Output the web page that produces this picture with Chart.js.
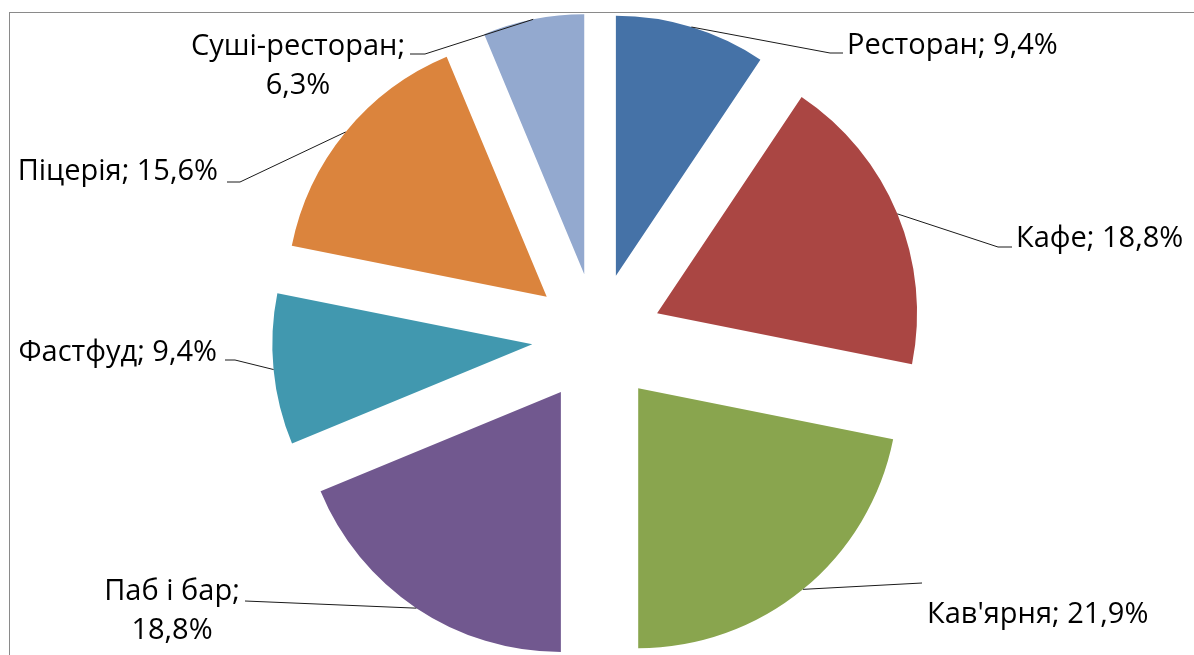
<!DOCTYPE html>
<html>
<head>
<meta charset="utf-8">
<script src="https://cdn.jsdelivr.net/npm/chart.js@4.4.1/dist/chart.umd.min.js"></script>
<style>
  html, body { margin: 0; padding: 0; background: #fff; overflow: hidden; }
  #wrap { position: relative; width: 1194px; height: 655px; overflow: hidden; }
  #frame { position: absolute; left: 9px; top: 12px; width: 1400px; height: 900px;
           border: 1px solid #8a8a8a; box-sizing: border-box; }
  canvas { position: absolute; left: 0; top: 0; }
</style>
</head>
<body>
<div id="wrap">
  <div id="frame"></div>
  <canvas id="c" width="1194" height="655"></canvas>
</div>
<script>
// ---- data ----
const categories = ['Ресторан', 'Кафе', "Кав'ярня", 'Паб і бар', 'Фастфуд', 'Піцерія', 'Суші-ресторан'];
const shares = [9.4, 18.8, 21.9, 18.8, 9.4, 15.6, 6.3];
const colors = ['#4572A7', '#AA4643', '#89A54E', '#71588F', '#4198AF', '#DB843D', '#93A9CF'];

// ---- label layout (positions only) ----
const labelLayout = [
  { knee: [830, 53],  end: [843, 53],  at: [847, 54],  align: 'left',   split: false },
  { knee: [998, 247], end: [1012, 247], at: [1016, 247], align: 'left',  split: false },
  { knee: null,       end: [922, 583], at: [927, 623], align: 'left',   split: false },
  { knee: null,       end: [245, 601], at: [172, 600], align: 'center', split: true },
  { knee: [235, 360], end: [225, 360], at: [217, 361], align: 'right',  split: false },
  { knee: [240, 182], end: [227, 182], at: [218, 180], align: 'right',  split: false },
  { knee: [425, 54],  end: [410, 54],  at: [298, 55],  align: 'center', split: true }
];

const EXPLODE = 65;
const FONT = '29px "Open Sans"';
const TEXT_SCALE_X = 1.0;
const LINE_GAP = 39;

function fmt(v) { return v.toFixed(1).replace('.', ',') + '%'; }

const explodePlugin = {
  id: 'explode',
  beforeDatasetsDraw(chart) {
    const area = chart.chartArea;
    const cx = (area.left + area.right) / 2;
    const cy = (area.top + area.bottom) / 2;
    chart.getDatasetMeta(0).data.forEach(el => {
      const mid = (el.startAngle + el.endAngle) / 2;
      el.x = cx + Math.cos(mid) * EXPLODE;
      el.y = cy + Math.sin(mid) * EXPLODE;
    });
  }
};

const labelPlugin = {
  id: 'pieLabels',
  afterDatasetsDraw(chart) {
    const ctx = chart.ctx;
    const arcs = chart.getDatasetMeta(0).data;
    ctx.save();
    ctx.font = FONT;
    arcs.forEach((el, i) => {
      const lay = labelLayout[i];
      const mid = (el.startAngle + el.endAngle) / 2;
      const sx = el.x + Math.cos(mid) * el.outerRadius;
      const sy = el.y + Math.sin(mid) * el.outerRadius;
      ctx.beginPath();
      ctx.strokeStyle = '#1a1a1a';
      ctx.lineWidth = 1;
      ctx.moveTo(sx, sy);
      if (lay.knee) ctx.lineTo(lay.knee[0], lay.knee[1]);
      ctx.lineTo(lay.end[0], lay.end[1]);
      ctx.stroke();
      const full = categories[i] + '; ' + fmt(shares[i]);
      const lines = lay.split ? [categories[i] + ';', fmt(shares[i])] : [full];
      ctx.fillStyle = '#000';
      ctx.textBaseline = 'alphabetic';
      lines.forEach((t, k) => {
        const w = ctx.measureText(t).width * TEXT_SCALE_X;
        let x0 = lay.at[0];
        if (lay.align === 'right') x0 -= w;
        else if (lay.align === 'center') x0 -= w / 2;
        ctx.save();
        ctx.translate(x0, lay.at[1] + k * LINE_GAP);
        ctx.scale(TEXT_SCALE_X, 1);
        ctx.textAlign = 'left';
        ctx.fillText(t, 0, 0);
        ctx.restore();
      });
    });
    ctx.restore();
  }
};

new Chart(document.getElementById('c'), {
  type: 'pie',
  data: {
    labels: categories,
    datasets: [{
      data: shares,
      backgroundColor: colors,
      borderWidth: 0,
      offset: 0
    }]
  },
  options: {
    responsive: false,
    animation: false,
    events: [],
    radius: 260,
    layout: { padding: { top: 21, bottom: 0, left: 0, right: 0 } },
    plugins: {
      legend: { display: false },
      tooltip: { enabled: false },
      title: { display: false }
    }
  },
  plugins: [explodePlugin, labelPlugin]
});
</script>
</body>
</html>
